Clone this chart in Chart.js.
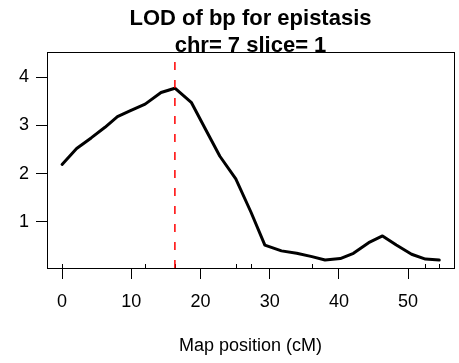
<!DOCTYPE html>
<html>
<head>
<meta charset="utf-8">
<script src="https://cdn.jsdelivr.net/npm/chart.js@4"></script>
<style>
  body { margin: 0; background: #fff; }
  canvas { display: block; }
</style>
</head>
<body>
<canvas id="lodChart" width="459" height="363"></canvas>
<script>
// LOD profile, chr 7 slice 1
const positions = [0, 2.1, 4.2, 6.2, 8.0, 9.8, 12.0, 14.3, 16.3, 18.7, 20.8, 22.8, 25.1, 27.3,
                   29.3, 31.7, 33.9, 36.1, 38.0, 40.2, 42.1, 44.3, 46.3, 48.3, 50.5, 52.5, 54.5];
const lod = [2.19, 2.52, 2.74, 2.96, 3.18, 3.30, 3.44, 3.68, 3.77, 3.47, 2.90, 2.36, 1.89, 1.20,
             0.52, 0.40, 0.35, 0.28, 0.21, 0.24, 0.35, 0.57, 0.71, 0.52, 0.33, 0.23, 0.21];
const markers = [0, 12.0, 16.3, 25.1, 27.3, 36.1, 52.5, 54.5];
const peakPos = 16.3;
const xTicks = [0, 10, 20, 30, 40, 50];
const yTicks = [1, 2, 3, 4];
const titleLines = ['LOD of bp for epistasis', 'chr= 7 slice= 1'];

const xMin = -2.18, xMax = 56.63;
const yMin = 0.045, yMax = 4.52;

const font = 'Liberation Sans, Arial, Helvetica, sans-serif';

const frame = {
    id: 'frame',
    beforeDatasetsDraw(chart) {
        const { ctx, chartArea: a } = chart;
        const cx = (a.left + a.right) / 2;
        ctx.save();
        ctx.fillStyle = '#000';
        ctx.font = 'bold 22px ' + font;
        ctx.textAlign = 'center';
        ctx.textBaseline = 'middle';
        ctx.fillText(titleLines[0], cx, 19);
        ctx.fillText(titleLines[1], cx, 46);
        ctx.restore();
    },
    afterDatasetsDraw(chart) {
        const { ctx, chartArea: a } = chart;
        const x = chart.scales.x;
        ctx.save();
        ctx.strokeStyle = '#000';
        ctx.lineWidth = 1;
        // marker rug along the bottom
        ctx.beginPath();
        markers.forEach(m => {
            const px = Math.round(x.getPixelForValue(m)) + 0.5;
            ctx.moveTo(px, a.bottom);
            ctx.lineTo(px, a.bottom - 4);
        });
        ctx.stroke();
        ctx.strokeRect(Math.round(a.left) + 0.5, Math.round(a.top) + 0.5,
                       Math.round(a.right - a.left), Math.round(a.bottom - a.top));
        // peak line
        const px = x.getPixelForValue(peakPos);
        ctx.strokeStyle = '#ff0000';
        ctx.lineWidth = 1.5;
        ctx.setLineDash([8, 10]);
        ctx.beginPath();
        ctx.moveTo(px, a.bottom);
        ctx.lineTo(px, a.top);
        ctx.stroke();
        ctx.restore();
    }
};

new Chart(document.getElementById('lodChart'), {
    type: 'line',
    data: {
        datasets: [{
            data: positions.map((p, i) => ({ x: p, y: lod[i] })),
            borderColor: '#000',
            borderWidth: 3,
            borderJoinStyle: 'round',
            borderCapStyle: 'round',
            pointRadius: 0,
            tension: 0
        }]
    },
    options: {
        responsive: false,
        animation: false,
        layout: { padding: { top: 52, right: 5, left: 0, bottom: 0 } },
        plugins: {
            legend: { display: false },
            tooltip: { enabled: false },
            title: { display: false }
        },
        scales: {
            x: {
                type: 'linear',
                min: xMin,
                max: xMax,
                afterFit: s => { s.height = 95; },
                afterBuildTicks: s => { s.ticks = xTicks.map(v => ({ value: v })); },
                grid: { drawOnChartArea: false, drawTicks: true, tickLength: 11, color: '#000', lineWidth: 1 },
                border: { display: true, color: '#000', width: 1 },
                ticks: { color: '#000', font: { family: font, size: 18 }, padding: 12, maxRotation: 0 },
                title: {
                    display: true,
                    text: 'Map position (cM)',
                    color: '#000',
                    font: { family: font, size: 18 },
                    padding: { top: 0, bottom: 6 }
                }
            },
            y: {
                type: 'linear',
                min: yMin,
                max: yMax,
                afterFit: s => { s.width = 47; },
                afterBuildTicks: s => { s.ticks = yTicks.map(v => ({ value: v })); },
                grid: { drawOnChartArea: false, drawTicks: true, tickLength: 11, color: '#000', lineWidth: 1 },
                border: { display: true, color: '#000', width: 1 },
                ticks: { color: '#000', font: { family: font, size: 18 }, padding: 7 }
            }
        }
    },
    plugins: [frame]
});
</script>
</body>
</html>
